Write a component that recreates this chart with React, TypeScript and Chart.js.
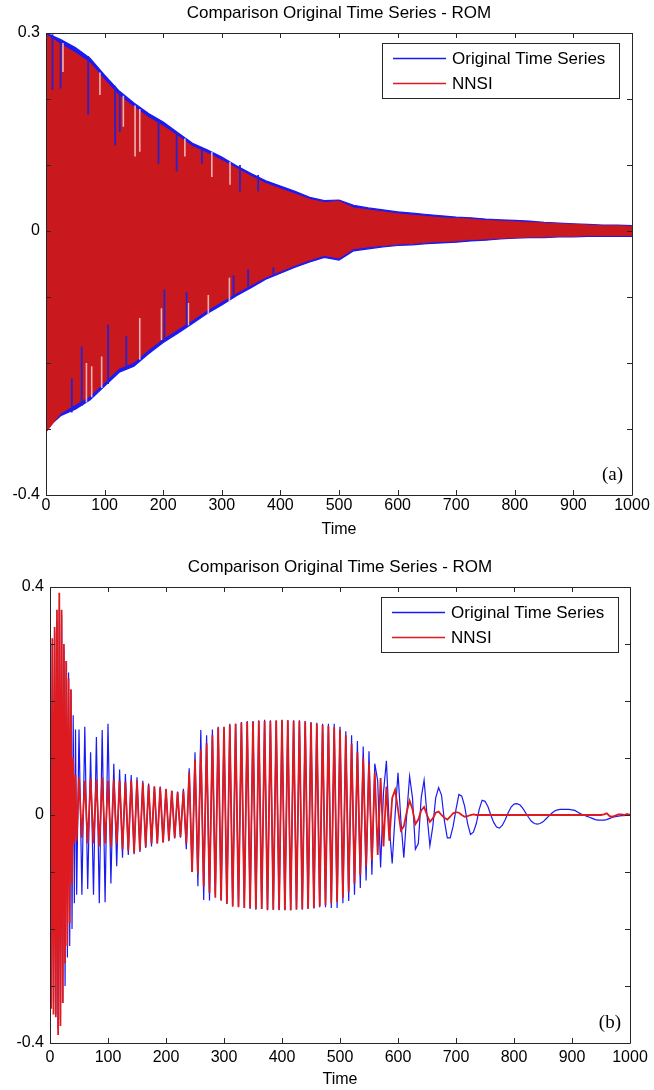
import React, { useEffect, useRef } from "react";
import { Chart, registerables } from "chart.js";

Chart.register(...registerables);

const FONT = '"Liberation Sans", Arial, Helvetica, sans-serif';
const SERIF = '"Liberation Serif", "Times New Roman", serif';
const TITLE_TEXT = "Comparison Original Time Series - ROM";
const X_TITLE = "Time";
const LEGEND_LABELS = ["Original Time Series", "NNSI"];
const BLUE = "#1a1af2";
const BLUE_DARK = "#2a22c8";
const RED = "#dc1a20";
const RED_FILL = "#c9181e";
const PINK = "#efb3b3";

const X_TICKS = [0, 100, 200, 300, 400, 500, 600, 700, 800, 900, 1000];
const A_Y_TICKS = [0.3, 0.2, 0.1, 0, -0.1, -0.2, -0.3, -0.4];
const A_Y_LABELED = [0.3, 0, -0.4];
const B_Y_TICKS = [0.4, 0.3, 0.2, 0.1, 0, -0.1, -0.2, -0.3, -0.4];
const B_Y_LABELED = [0.4, 0, -0.4];

// Panel (a): envelope of the dense oscillation, read every 25 time units
const A_TIME = [
  0, 25, 50, 75, 100, 125, 150, 175, 200, 225,
  250, 275, 300, 325, 350, 375, 400, 425, 450, 475,
  500, 525, 550, 575, 600, 625, 650, 675, 700, 725,
  750, 775, 800, 825, 850, 875, 900, 925, 950, 975,
  1000,
];
const A_BLUE_UPPER = [
  0.3, 0.29, 0.278, 0.262, 0.236, 0.212, 0.194, 0.178, 0.165, 0.149,
  0.133, 0.123, 0.112, 0.099, 0.087, 0.076, 0.068, 0.06, 0.051, 0.046,
  0.047, 0.039, 0.035, 0.032, 0.029, 0.027, 0.025, 0.023, 0.021, 0.02,
  0.018, 0.017, 0.016, 0.015, 0.013, 0.012, 0.011, 0.01, 0.009, 0.009,
  0.008,
];
const A_BLUE_LOWER = [
  -0.3, -0.28, -0.27, -0.256, -0.235, -0.214, -0.205, -0.186, -0.169, -0.155,
  -0.14, -0.125, -0.112, -0.098, -0.086, -0.073, -0.064, -0.055, -0.047, -0.04,
  -0.044, -0.03, -0.027, -0.024, -0.022, -0.021, -0.019, -0.018, -0.017, -0.015,
  -0.014, -0.012, -0.011, -0.01, -0.01, -0.009, -0.009, -0.008, -0.008, -0.008,
  -0.008,
];
const A_RED_UPPER = [
  0.298, 0.283, 0.27, 0.255, 0.229, 0.205, 0.188, 0.172, 0.159, 0.144,
  0.128, 0.118, 0.107, 0.095, 0.083, 0.072, 0.064, 0.056, 0.048, 0.043,
  0.045, 0.035, 0.032, 0.029, 0.026, 0.024, 0.022, 0.02, 0.019, 0.018,
  0.016, 0.015, 0.014, 0.013, 0.012, 0.011, 0.01, 0.009, 0.008, 0.008,
  0.007,
];
const A_RED_LOWER = [
  -0.305, -0.276, -0.263, -0.25, -0.229, -0.208, -0.199, -0.18, -0.163, -0.149,
  -0.135, -0.12, -0.107, -0.094, -0.082, -0.07, -0.061, -0.052, -0.044, -0.037,
  -0.041, -0.027, -0.024, -0.022, -0.02, -0.019, -0.017, -0.016, -0.015, -0.013,
  -0.012, -0.011, -0.01, -0.009, -0.009, -0.008, -0.008, -0.007, -0.007, -0.007,
  -0.007,
];
// Panel (a): blue excursions of the original series inside the band (time, from, to)
const A_SPIKE_T = [11, 25, 72, 118, 126, 192, 223, 266, 331, 362, 0, 44, 61, 106, 137, 202, 240, 320, 345, 388];
const A_SPIKE_FROM = [0.298, 0.29, 0.265, 0.22, 0.21, 0.167, 0.15, 0.127, 0.1, 0.085, -0.3, -0.275, -0.265, -0.232, -0.21, -0.167, -0.145, -0.1, -0.088, -0.067];
const A_SPIKE_TO = [0.214, 0.216, 0.176, 0.13, 0.15, 0.102, 0.09, 0.102, 0.06, 0.06, -0.226, -0.223, -0.175, -0.142, -0.159, -0.089, -0.092, -0.067, -0.058, -0.055];
// Panel (a): light gaps between the NNSI strokes (time, from, to)
const A_GAP_T = [29, 92, 132, 152, 160, 237, 283, 314, 69, 78, 95, 160, 197, 243, 277, 313];
const A_GAP_FROM = [0.285, 0.24, 0.205, 0.19, 0.185, 0.14, 0.12, 0.105, -0.26, -0.252, -0.238, -0.195, -0.165, -0.143, -0.126, -0.107];
const A_GAP_TO = [0.241, 0.206, 0.158, 0.113, 0.12, 0.113, 0.082, 0.07, -0.2, -0.205, -0.19, -0.132, -0.117, -0.109, -0.097, -0.071];

// Panel (b): fast start, samples every 2 time units (0 ... 46)
const B_EARLY_STEP = 2;
const B_RED_EARLY = [
  0.3, -0.34, 0.31, -0.35, 0.33, -0.355, 0.36, -0.386, 0.39, -0.37,
  0.36, -0.33, 0.3, -0.26, 0.27, -0.23, 0.24, -0.19, 0.22, -0.12,
  0.1, -0.05, 0.07, -0.045,
];
const B_BLUE_EARLY = [
  0.32, -0.32, 0.3, -0.33, 0.32, -0.35, 0.34, -0.375, 0.36, -0.36,
  0.35, -0.33, 0.29, -0.3, 0.27, -0.25, 0.25, -0.23, 0.22, -0.2,
  0.175, -0.155, 0.15, -0.14,
];
// Panel (b): samples every 5 time units (50 ... 1000), one row = 50 time units
const B_START = 50;
const B_STEP = 5;
const B_RED = [
  0.065, -0.04, 0.06, -0.05, 0.065, -0.05, 0.062, -0.055, 0.066, -0.05,
  0.06, -0.055, 0.062, -0.05, 0.06, -0.06, 0.058, -0.062, 0.061, -0.066,
  0.06, -0.062, 0.056, -0.056, 0.052, -0.05, 0.05, -0.05, 0.048, -0.048,
  0.045, -0.044, 0.042, -0.04, 0.04, -0.038, 0.042, -0.05, 0.075, -0.1,
  0.097, -0.103, 0.115, -0.125, 0.126, -0.137, 0.14, -0.145, 0.153, -0.15,
  0.155, -0.156, 0.158, -0.161, 0.16, -0.162, 0.162, -0.163, 0.163, -0.163,
  0.164, -0.165, 0.165, -0.165, 0.165, -0.166, 0.165, -0.166, 0.166, -0.166,
  0.166, -0.167, 0.166, -0.167, 0.165, -0.166, 0.165, -0.165, 0.164, -0.164,
  0.162, -0.163, 0.16, -0.16, 0.158, -0.158, 0.156, -0.155, 0.154, -0.152,
  0.15, -0.145, 0.14, -0.135, 0.125, -0.12, 0.11, -0.105, 0.1, -0.09,
  0.09, -0.08, 0.075, -0.07, 0.065, -0.055, 0.05, -0.045, 0.03, 0.044,
  0.01, -0.027, -0.02, 0.005, 0.025, 0.01, -0.016, -0.008, 0.008, 0.014,
  0.0, -0.012, -0.006, 0.004, 0.006, 0.0, -0.005, -0.008, -0.003, 0.003,
  0.005, 0.004, 0.0, -0.003, -0.002, 0.0, 0.001, 0.0, 0.0, 0.0,
  0.0, 0.0, 0.0, 0.0, 0.0, 0.0, 0.0, 0.0, 0.0, 0.0,
  0.0, 0.0, 0.0, 0.0, 0.0, 0.0, 0.0, 0.0, 0.0, 0.0,
  0.0, 0.0, 0.0, 0.0, 0.0, 0.0, 0.0, 0.0, 0.0, 0.0,
  0.0, 0.0, 0.0, 0.0, 0.0, 0.0, 0.0, 0.0, 0.0, 0.0,
  0.0, 0.001, 0.003, -0.002, -0.003, -0.001, 0.001, 0.001, 0.0, 0.002,
  0.0,
];
const B_BLUE = [
  0.15, -0.14, 0.155, -0.13, 0.11, -0.14, 0.137, -0.155, 0.149, -0.153,
  0.16, -0.12, 0.09, -0.09, 0.08, -0.075, 0.072, -0.07, 0.07, -0.069,
  0.066, -0.065, 0.06, -0.058, 0.055, -0.055, 0.05, -0.05, 0.05, -0.048,
  0.046, -0.046, 0.043, -0.041, 0.041, -0.04, 0.046, -0.06, 0.082, -0.1,
  0.11, -0.125, 0.149, -0.149, 0.14, -0.15, 0.15, -0.14, 0.155, -0.15,
  0.15, -0.155, 0.16, -0.158, 0.16, -0.16, 0.163, -0.16, 0.165, -0.165,
  0.165, -0.166, 0.166, -0.165, 0.167, -0.167, 0.166, -0.166, 0.165, -0.167,
  0.167, -0.166, 0.166, -0.167, 0.166, -0.165, 0.166, -0.166, 0.165, -0.165,
  0.163, -0.164, 0.162, -0.162, 0.16, -0.162, 0.16, -0.163, 0.16, -0.163,
  0.155, -0.155, 0.147, -0.151, 0.14, -0.14, 0.13, -0.128, 0.12, -0.115,
  0.112, -0.105, 0.09, 0.06, -0.092, 0.04, 0.095, -0.02, -0.085, 0.0,
  0.074, -0.01, -0.075, 0.0, 0.068, 0.03, -0.06, -0.05, 0.03, 0.061,
  0.0, -0.054, -0.02, 0.03, 0.048, 0.035, -0.01, -0.04, -0.04, -0.02,
  0.01, 0.036, 0.033, 0.015, -0.015, -0.034, -0.03, -0.015, 0.01, 0.026,
  0.024, 0.015, 0.0, -0.013, -0.021, -0.023, -0.018, -0.008, 0.004, 0.014,
  0.019, 0.02, 0.018, 0.012, 0.004, -0.004, -0.011, -0.015, -0.016, -0.015,
  -0.012, -0.007, -0.002, 0.003, 0.007, 0.009, 0.01, 0.01, 0.01, 0.01,
  0.009, 0.008, 0.005, 0.002, 0.0, -0.002, -0.004, -0.006, -0.008, -0.009,
  -0.009, -0.009, -0.008, -0.006, -0.004, -0.003, -0.002, -0.001, -0.001, 0.0,
  0.001,
];

const pairs = (xs: number[], ys: number[]) => ys.map((y, i) => ({ x: xs[i], y }));
const stepped = (ys: number[], start: number, step: number) => ys.map((y, i) => ({ x: start + i * step, y }));
const segments = (ts: number[], from: number[], to: number[]) => {
  const out: { x: number; y: number | null }[] = [];
  ts.forEach((t, i) => {
    out.push({ x: t, y: from[i] }, { x: t, y: to[i] }, { x: t, y: null });
  });
  return out;
};

const framePlugin = {
  id: "matlabFrame",
  afterDraw(chart: any, _args: any, opts: any) {
    const { ctx, chartArea } = chart;
    const { left, right, top, bottom } = chartArea;
    const xs = chart.scales.x;
    const ys = chart.scales.y;
    ctx.save();
    ctx.strokeStyle = "#262626";
    ctx.lineWidth = 1;
    ctx.beginPath();
    ctx.rect(Math.round(left) + 0.5, Math.round(top) + 0.5, Math.round(right - left), Math.round(bottom - top));
    ctx.stroke();
    const TL = 5;
    ctx.beginPath();
    for (const v of opts.xTicks) {
      const px = Math.round(xs.getPixelForValue(v)) + 0.5;
      ctx.moveTo(px, bottom);
      ctx.lineTo(px, bottom - TL);
      ctx.moveTo(px, top);
      ctx.lineTo(px, top + TL);
    }
    for (const v of opts.yTicks) {
      const py = Math.round(ys.getPixelForValue(v)) + 0.5;
      ctx.moveTo(left, py);
      ctx.lineTo(left + TL, py);
      ctx.moveTo(right, py);
      ctx.lineTo(right - TL, py);
    }
    ctx.stroke();

    ctx.fillStyle = "#000";
    ctx.textAlign = "center";
    ctx.textBaseline = "middle";
    ctx.font = `17px ${FONT}`;
    ctx.fillText(opts.title, (left + right) / 2, top - 20);
    ctx.font = `16px ${FONT}`;
    ctx.fillText(opts.xTitle, (left + right) / 2, bottom + opts.xTitleOffset);

    // legend
    const bw = 237;
    const bh = 55;
    const bx = Math.round(right - opts.legendRight - bw);
    const by = Math.round(top + 10);
    ctx.fillStyle = "#fff";
    ctx.fillRect(bx, by, bw, bh);
    ctx.strokeStyle = "#262626";
    ctx.strokeRect(bx + 0.5, by + 0.5, bw, bh);
    const rows = [
      { color: BLUE, text: opts.legend[0], dy: 15 },
      { color: RED, text: opts.legend[1], dy: 40 },
    ];
    ctx.font = `17px ${FONT}`;
    ctx.textAlign = "left";
    for (const r of rows) {
      ctx.strokeStyle = r.color;
      ctx.lineWidth = 1.5;
      ctx.beginPath();
      ctx.moveTo(bx + 11, by + r.dy + 0.5);
      ctx.lineTo(bx + 64, by + r.dy + 0.5);
      ctx.stroke();
      ctx.fillStyle = "#000";
      ctx.fillText(r.text, bx + 70, by + r.dy + 1);
    }

    ctx.font = `19px ${SERIF}`;
    ctx.textAlign = "right";
    ctx.fillStyle = "#000";
    ctx.fillText(opts.panel, right - 9, bottom - 20);
    ctx.restore();
  },
};

function fmt(v: number) {
  if (Math.abs(v) < 1e-9) return "0";
  return v.toFixed(1);
}

function makeOptions(p: {
  yMin: number; yMax: number; labeled: number[]; yTicks: number[];
  yWidth: number; xHeight: number; padTop: number; padRight: number;
  xPad: number; xTitleOffset: number; legendRight: number; panel: string;
}) {
  return {
    responsive: false,
    animation: false,
    devicePixelRatio: 1,
    layout: { padding: { top: p.padTop, right: p.padRight, left: 0, bottom: 0 } },
    elements: { point: { radius: 0 }, line: { tension: 0 } },
    plugins: {
      legend: { display: false },
      tooltip: { enabled: false },
      title: { display: false },
      matlabFrame: {
        xTicks: X_TICKS,
        yTicks: p.yTicks,
        title: TITLE_TEXT,
        xTitle: X_TITLE,
        xTitleOffset: p.xTitleOffset,
        legend: LEGEND_LABELS,
        legendRight: p.legendRight,
        panel: p.panel,
      },
    },
    scales: {
      x: {
        type: "linear",
        min: 0,
        max: 1000,
        grid: { display: false, drawTicks: false },
        border: { display: false },
        ticks: {
          stepSize: 100,
          autoSkip: false,
          maxRotation: 0,
          padding: p.xPad,
          color: "#000",
          font: { family: FONT, size: 16 },
          callback: (v: number) => String(Math.round(v)),
        },
        afterFit: (s: any) => { s.height = p.xHeight; },
      },
      y: {
        type: "linear",
        min: p.yMin,
        max: p.yMax,
        grid: { display: false, drawTicks: false },
        border: { display: false },
        ticks: {
          stepSize: 0.1,
          autoSkip: false,
          padding: 6,
          color: "#000",
          font: { family: FONT, size: 16 },
          callback: (v: number) => (p.labeled.some((l) => Math.abs(l - v) < 1e-6) ? fmt(v) : ""),
        },
        afterFit: (s: any) => { s.width = p.yWidth; },
      },
    },
  };
}

export default function App() {
  const refA = useRef<HTMLCanvasElement>(null);
  const refB = useRef<HTMLCanvasElement>(null);

  useEffect(() => {
    const chartA = new Chart(refA.current as HTMLCanvasElement, {
      type: "line",
      data: {
        datasets: [
          {
            label: "Original Time Series (upper)",
            data: pairs(A_TIME, A_BLUE_UPPER),
            borderColor: BLUE,
            borderWidth: 1.2,
            backgroundColor: BLUE,
            fill: "+1",
            order: 3,
          },
          {
            label: "Original Time Series (lower)",
            data: pairs(A_TIME, A_BLUE_LOWER),
            borderColor: BLUE,
            borderWidth: 1.2,
            backgroundColor: BLUE,
            fill: false,
            order: 3,
          },
          {
            label: "NNSI (upper)",
            data: pairs(A_TIME, A_RED_UPPER),
            borderColor: RED_FILL,
            borderWidth: 1,
            backgroundColor: RED_FILL,
            fill: "+1",
            order: 2,
          },
          {
            label: "NNSI (lower)",
            data: pairs(A_TIME, A_RED_LOWER),
            borderColor: RED_FILL,
            borderWidth: 1,
            backgroundColor: RED_FILL,
            fill: false,
            order: 2,
          },
          {
            label: "NNSI gaps",
            data: segments(A_GAP_T, A_GAP_FROM, A_GAP_TO),
            borderColor: PINK,
            borderWidth: 1.6,
            fill: false,
            spanGaps: false,
            order: 1,
          },
          {
            label: "Original Time Series excursions",
            data: segments(A_SPIKE_T, A_SPIKE_FROM, A_SPIKE_TO),
            borderColor: BLUE_DARK,
            borderWidth: 1.8,
            fill: false,
            spanGaps: false,
            order: 0,
          },
        ],
      },
      options: makeOptions({
        yMin: -0.4, yMax: 0.3, labeled: A_Y_LABELED, yTicks: A_Y_TICKS,
        yWidth: 46, xHeight: 50, padTop: 33, padRight: 22, xPad: 1,
        xTitleOffset: 35, legendRight: 13, panel: "(a)",
      }) as any,
      plugins: [framePlugin],
    });

    const blueB = [...stepped(B_BLUE_EARLY, 0, B_EARLY_STEP), ...stepped(B_BLUE, B_START, B_STEP)];
    const redB = [...stepped(B_RED_EARLY, 0, B_EARLY_STEP), ...stepped(B_RED, B_START, B_STEP)];

    const chartB = new Chart(refB.current as HTMLCanvasElement, {
      type: "line",
      data: {
        datasets: [
          {
            label: "Original Time Series",
            data: blueB,
            borderColor: BLUE,
            borderWidth: 1.2,
            fill: false,
            order: 1,
          },
          {
            label: "NNSI",
            data: redB,
            borderColor: RED,
            borderWidth: 1.8,
            fill: false,
            order: 0,
          },
        ],
      },
      options: makeOptions({
        yMin: -0.4, yMax: 0.4, labeled: B_Y_LABELED, yTicks: B_Y_TICKS,
        yWidth: 50, xHeight: 47, padTop: 42, padRight: 24, xPad: 5,
        xTitleOffset: 37, legendRight: 12, panel: "(b)",
      }) as any,
      plugins: [framePlugin],
    });

    return () => {
      chartA.destroy();
      chartB.destroy();
    };
  }, []);

  return (
    <div style={{ position: "absolute", left: 0, top: 0, width: 654, height: 1090, background: "#fff" }}>
      <canvas ref={refA} width={654} height={545} style={{ display: "block", width: 654, height: 545 }} />
      <canvas ref={refB} width={654} height={545} style={{ display: "block", width: 654, height: 545 }} />
    </div>
  );
}
